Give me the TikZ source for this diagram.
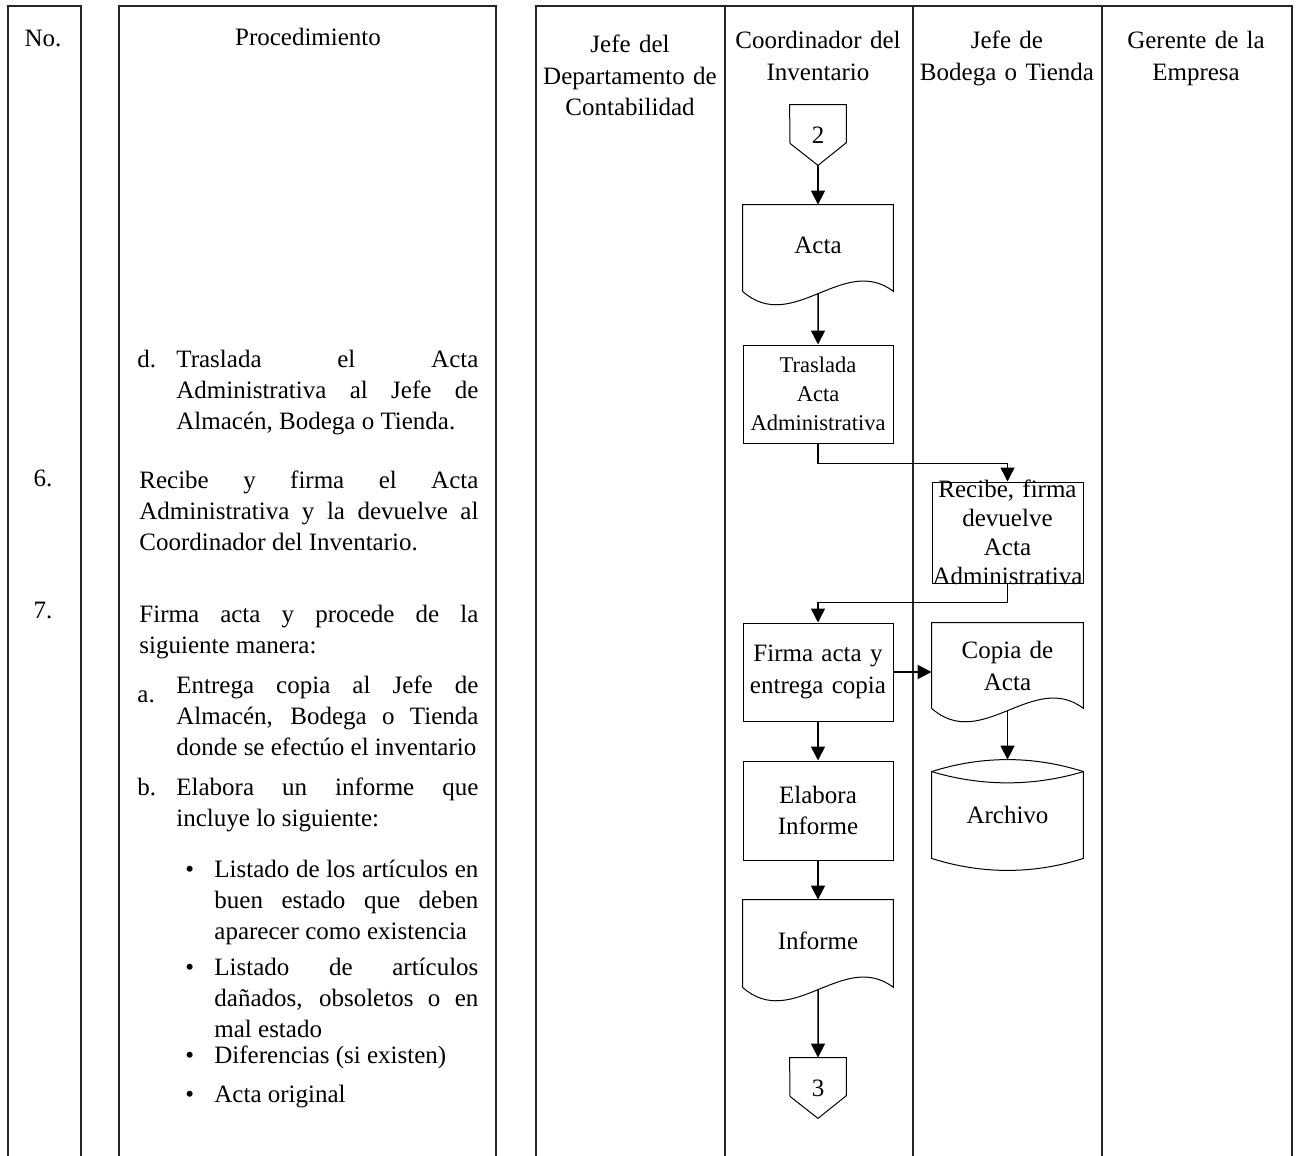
\documentclass[tikz,border=0pt]{standalone}
\usepackage{fontspec}
\setmainfont{Liberation Serif}
\usetikzlibrary{arrows.meta}
\colorlet{colc}{black!85}
\colorlet{shapec}{black}
\newcommand{\txtsize}{\fontsize{12.5pt}{15.6pt}\selectfont}
\newcommand{\boxsize}{\fontsize{11.25pt}{14.5pt}\selectfont}
% outline of an off-page connector
\newcommand{\offpage}[1]{\draw[shp] (#1.north west) -- (#1.north east) -- ++(0,38) -- (#1.south) -- ++(-28,-22) -- cycle;}
% outline of a document with a wavy bottom
\newcommand{\docpath}[1]{\draw[shp] (#1.south west) -- (#1.north west) -- (#1.north east) -- (#1.south east)
  .. controls +(-50,-38) and +(50,44) .. (#1.south west) coordinate[pos=0.5] (#1-w);}

\begin{document}
\begin{tikzpicture}[x=0.5pt,y=-0.5pt,font=\txtsize,
  col/.style={colc,line width=0.7pt},
  shp/.style={shapec,line width=0.5pt},
  hdr/.style={anchor=base,inner sep=0pt,align=center},
  txt/.style={anchor=base west,inner sep=0pt,align=justify},
  proc/.style={draw=shapec,line width=0.5pt,shape=rectangle,inner sep=0pt,align=center,text width=75pt},
  doc/.style={shape=rectangle,inner sep=0pt,align=center,text width=75pt},
  flow/.style={-{Triangle[length=7pt,width=7pt]},line width=0.75pt}]
\useasboundingbox (0,0) rectangle (1296,1156);

% columns
\draw[col] (8,1156) -- (8,6) -- (81,6) -- (81,1156);
\draw[col] (119,1156) -- (119,6) -- (496,6) -- (496,1156);
\draw[col] (536,1156) -- (536,6) -- (1292,6) -- (1292,1156);
\foreach \xl in {725,913,1102}
  \draw[col] (\xl,6) -- (\xl,1156);

\node[hdr,text width=30pt] (h-no) at (43,47) {No.};
\node[hdr,text width=150pt] (h-proc) at (308,46) {Procedimiento};
\node[hdr,text width=94pt] (h-cont) at (630,53) {Jefe del\\Departamento de\\Contabilidad};
\node[hdr,text width=94pt] (h-coord) at (818,49) {Coordinador del\\Inventario};
\node[hdr,text width=94pt] (h-bod) at (1007,49) {Jefe de\\Bodega o Tienda};
\node[hdr,text width=94pt] (h-ger) at (1196,49) {Gerente de la\\Empresa};

% procedure text
\node[txt] (pd-lbl) at (137,367) {d.};
\node[txt,text width=151pt] (pd-txt) at (176,367)
{Traslada el Acta\linebreak Administrativa al Jefe de\linebreak Almacén, Bodega o Tienda.};
\node[hdr,text width=30pt] (p6-num) at (43,486) {6.};
\node[txt,text width=169.5pt] (p6-txt) at (139,488)
{Recibe y firma el Acta\linebreak Administrativa y la devuelve al\linebreak Coordinador del Inventario.};
\node[hdr,text width=30pt] (p7-num) at (43,618) {7.};
\node[txt,text width=169.5pt] (p7-txt) at (139,622)
{Firma acta y procede de la\linebreak siguiente manera:};
\node[txt] (pa-lbl) at (137,702) {a.};
\node[txt,text width=151pt] (pa-txt) at (176,693)
{Entrega copia al Jefe de\linebreak Almacén, Bodega o Tienda\linebreak donde se efectúo el inventario};
\node[txt] (pb-lbl) at (137,795) {b.};
\node[txt,text width=151pt] (pb-txt) at (176,795)
{Elabora un informe que\linebreak incluye lo siguiente:};
\foreach \yb/\nm in {877/b1,975/b2,1063/b3,1102/b4}
  \node[txt] (\nm) at (185,\yb) {\textbullet};
\node[txt,text width=132pt] (i1) at (214,877)
{Listado de los artículos en\linebreak buen estado que deben\linebreak aparecer como existencia};
\node[txt,text width=132pt] (i2) at (214,975)
{Listado de artículos\linebreak dañados, obsoletos o en\linebreak mal estado};
\node[txt,text width=132pt] (i3) at (214,1063) {Diferencias (si existen)};
\node[txt,text width=132pt] (i4) at (214,1102) {Acta original};

% flowchart
\node[shape=rectangle,inner sep=0pt,minimum width=28pt,minimum height=30pt] (con2) at (818,135) {2};
\offpage{con2}
\node[doc,minimum height=43pt,text depth=3pt] (acta) at (818,248) {Acta};
\docpath{acta}
\node[proc,minimum height=49pt,font=\boxsize] (trasl) at (818,394) {Traslada\\Acta\\Administrativa};
\node[draw=shapec,line width=0.5pt,shape=rectangle,minimum width=75.5pt,minimum height=50.5pt] (recibe) at (1007.5,532.5) {};
\node[hdr,anchor=center,text width=80pt,font=\fontsize{12.5pt}{14.5pt}\selectfont] (recibe-t) at (recibe)
{Recibe, firma\\devuelve\\Acta\\Administrativa};
\node[proc,minimum height=49pt,font=\fontsize{12.5pt}{16pt}\selectfont] (firma) at (818,672) {Firma acta y\\entrega copia};
\node[doc,text width=75.5pt,minimum height=42.5pt,font=\fontsize{12.5pt}{16pt}\selectfont] (copia) at (1007.5,665.5) {Copia de\\Acta};
\docpath{copia}
\node[shape=rectangle,inner sep=0pt,minimum width=75.5pt,minimum height=43pt] (arch) at (1007.5,815) {Archivo};
\draw[shp] (arch.north west) .. controls +(50,-16) and +(-50,-16) .. (arch.north east) coordinate[pos=0.5] (arch-top)
  -- (arch.south east) .. controls +(-50,16) and +(50,16) .. (arch.south west) -- cycle;
\draw[shp] (arch.north west) .. controls +(50,15) and +(-50,15) .. (arch.north east);
\node[proc,minimum height=49.5pt,font=\fontsize{12.5pt}{15.5pt}\selectfont] (elab) at (818,810.5) {Elabora\\Informe};
\node[doc,minimum height=43.5pt,text depth=3pt] (inf) at (818,943.5) {Informe};
\docpath{inf}
\node[shape=rectangle,inner sep=0pt,minimum width=28pt,minimum height=30pt] (con3) at (818,1088) {3};
\offpage{con3}

\draw[flow] (con2.south) -- (acta.north);
\draw[flow] (acta-w) -- (trasl.north);
\draw[flow] (trasl.south) -- ++(0,20) -| (recibe.north);
\draw[flow] (recibe.south) -- ++(0,19) -| (firma.north);
\draw[flow] (firma.east) -- (firma.east -| copia.west);
\draw[flow] (copia-w) -- (arch-top);
\draw[flow] (firma.south) -- (elab.north);
\draw[flow] (elab.south) -- (inf.north);
\draw[flow] (inf-w) -- (con3.north);

\end{tikzpicture}
\end{document}
